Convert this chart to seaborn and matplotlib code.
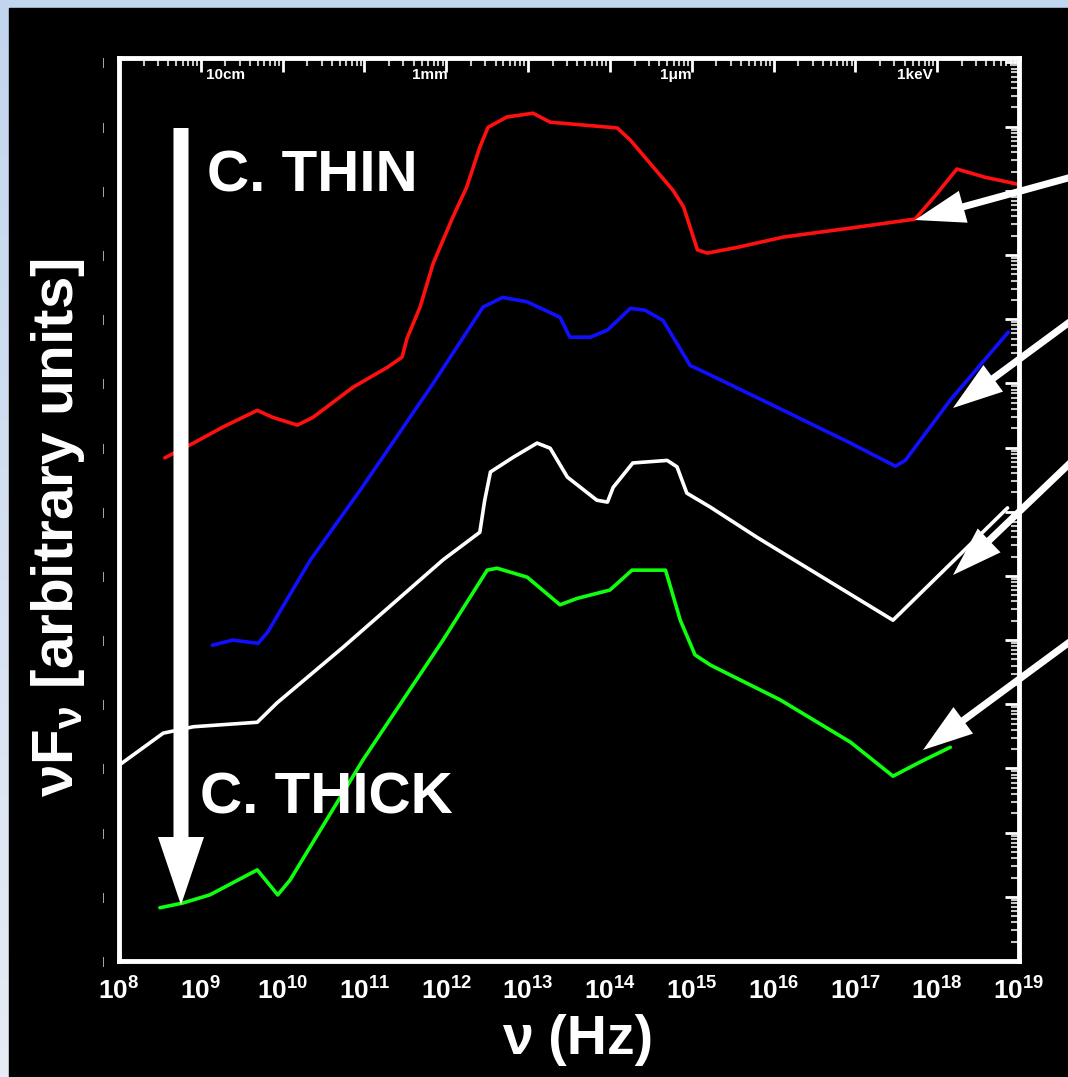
import numpy as np
import pandas as pd
import matplotlib
matplotlib.use("Agg")
import matplotlib.pyplot as plt
import matplotlib.transforms as mtransforms
import seaborn as sns
from matplotlib import font_manager
from matplotlib.colors import LinearSegmentedColormap
from matplotlib.patches import FancyArrowPatch, ArrowStyle, Rectangle
from matplotlib.ticker import FixedLocator, LogLocator, NullFormatter

# ---- spectral energy distributions: log10(nu / Hz) and log10(nu F_nu) ----
thin_lognu = [8.56, 8.91, 9.27, 9.69, 9.88, 10.18, 10.37, 10.86, 11.28, 11.46,
              11.52, 11.68, 11.84, 12.08, 12.25, 12.41, 12.51, 12.74, 13.06,
              13.27, 14.09, 14.25, 14.49, 14.77, 14.90, 15.07, 15.19, 15.56,
              16.12, 16.94, 17.73, 17.98, 18.24, 18.59, 19.00]
thin_logflux = [7.84, 8.07, 8.32, 8.58, 8.47, 8.35, 8.47, 8.94, 9.25, 9.41,
                9.70, 10.19, 10.87, 11.59, 12.06, 12.68, 12.99, 13.15, 13.21,
                13.07, 12.98, 12.79, 12.43, 12.01, 11.75, 11.08, 11.03, 11.12,
                11.28, 11.42, 11.56, 11.93, 12.34, 12.21, 12.10]

mid_thin_lognu = [9.14, 9.39, 9.70, 9.82, 10.34, 10.95, 11.84, 12.45, 12.69,
                  12.99, 13.39, 13.51, 13.76, 13.97, 14.25, 14.43, 14.65,
                  14.83, 14.98, 15.23, 16.12, 16.94, 17.49, 17.61, 18.16, 18.87]
mid_thin_logflux = [4.92, 5.00, 4.95, 5.13, 6.25, 7.34, 9.00, 10.19, 10.34,
                    10.27, 10.03, 9.72, 9.72, 9.83, 10.17, 10.14, 9.98, 9.60,
                    9.28, 9.13, 8.58, 8.07, 7.71, 7.80, 8.74, 9.80]

mid_thick_lognu = [8.00, 8.54, 8.91, 9.69, 9.93, 10.74, 11.96, 12.41, 12.47,
                   12.54, 12.82, 13.11, 13.27, 13.48, 13.84, 13.97, 14.04,
                   14.28, 14.70, 14.82, 14.94, 15.23, 15.80, 17.46, 18.86]
mid_thick_logflux = [3.05, 3.55, 3.65, 3.72, 4.02, 4.89, 6.25, 6.68, 7.18,
                     7.62, 7.85, 8.07, 7.99, 7.54, 7.18, 7.15, 7.38, 7.76,
                     7.80, 7.70, 7.29, 7.07, 6.60, 5.31, 7.06]

thick_lognu = [8.50, 8.77, 9.11, 9.69, 9.94, 10.09, 10.98, 11.96, 12.50,
               12.62, 12.99, 13.39, 13.60, 14.00, 14.27, 14.68, 14.86, 15.04,
               15.23, 16.08, 16.94, 17.46, 17.79, 18.16]
thick_logflux = [0.83, 0.90, 1.03, 1.42, 1.03, 1.26, 3.13, 5.00, 6.09, 6.12,
                 5.98, 5.55, 5.65, 5.78, 6.09, 6.09, 5.31, 4.77, 4.61, 4.07,
                 3.41, 2.88, 3.10, 3.33]

states = ["thin", "mid_thin", "mid_thick", "thick"]
state_colors = ["#ff1010", "#1010ff", "#ffffff", "#10ff10"]

xtick_exponents = list(range(8, 20))
xtick_labels = [r"$\mathrm{10^{%d}}$" % e for e in xtick_exponents]
ytick_exponents = list(range(0, 15))
top_marks = ["10cm", "1mm", "1μm", "1keV"]
top_marks_lognu = [9.30, 11.80, 14.81, 17.73]

# ---- styling ----
sns.set_theme(style="dark", rc={
    "axes.facecolor": "black",
    "figure.facecolor": "black",
    "axes.edgecolor": "white",
    "axes.grid": False,
})
installed = {f.name for f in font_manager.fontManager.ttflist}
narrow = "Liberation Sans Narrow" if "Liberation Sans Narrow" in installed else "Liberation Sans"

plt.rcParams["font.family"] = ["Liberation Sans", "DejaVu Sans"]
plt.rcParams["mathtext.fontset"] = "custom"
plt.rcParams["mathtext.rm"] = narrow + ":bold"
plt.rcParams["mathtext.it"] = "Liberation Sans:bold"
plt.rcParams["mathtext.bf"] = "Liberation Sans:bold"

W, H, DPI = 1068, 1077, 100


def fx(x):
    return x / W


def fy(y):
    return 1 - y / H


fig = plt.figure(figsize=(W / DPI, H / DPI), dpi=DPI)

# slide-style frame: pale blue gradient with a black panel
bg = fig.add_axes([0, 0, 1, 1], zorder=-10)
bg.axis("off")
frame_cmap = LinearSegmentedColormap.from_list("frame", ["#c2d5ee", "#e7ecf5"])
bg.imshow(np.linspace(0, 1, 256)[:, None], aspect="auto", cmap=frame_cmap,
          extent=[0, 1, 0, 1], origin="upper")
bg.add_patch(Rectangle((fx(9), 0), 1, fy(8), color="black", transform=bg.transAxes))
bg.set_xlim(0, 1)
bg.set_ylim(0, 1)

ax = fig.add_axes([fx(119), fy(961), (1019 - 119) / W, (961 - 58) / H])
ax.set_facecolor("black")

frames = []
for name, lx, ly in zip(states,
                        [thin_lognu, mid_thin_lognu, mid_thick_lognu, thick_lognu],
                        [thin_logflux, mid_thin_logflux, mid_thick_logflux, thick_logflux]):
    frames.append(pd.DataFrame({"nu": 10.0 ** np.asarray(lx),
                                "nuFnu": 10.0 ** np.asarray(ly),
                                "state": name}))
sed = pd.concat(frames, ignore_index=True)

sns.lineplot(data=sed, x="nu", y="nuFnu", hue="state", hue_order=states,
             palette=dict(zip(states, state_colors)), sort=False, estimator=None,
             legend=False, linewidth=2.6, ax=ax)

ax.set_xscale("log")
ax.set_yscale("log")
ax.set_xlim(1e8, 1e19)
ax.set_ylim(1, 10 ** 14.07)
ax.set_xlabel("")
ax.set_ylabel("")

ax.xaxis.set_major_locator(FixedLocator(10.0 ** np.array(xtick_exponents)))
ax.set_xticklabels(xtick_labels, fontsize=19, color="white")
ax.xaxis.set_minor_locator(LogLocator(base=10, subs=np.arange(2, 10) * 1.0, numticks=100))
ax.xaxis.set_minor_formatter(NullFormatter())

ax.yaxis.set_major_locator(FixedLocator(10.0 ** np.array(ytick_exponents)))
ax.set_yticklabels(["|"] * len(ytick_exponents), fontsize=8, color="#bbbbbb")
ax.yaxis.set_minor_locator(LogLocator(base=10, subs=np.arange(2, 10) * 1.0, numticks=100))
ax.yaxis.set_minor_formatter(NullFormatter())

ax.tick_params(axis="both", which="major", direction="in", length=10, width=2,
               color="white", top=True, right=True)
ax.tick_params(axis="both", which="minor", direction="in", length=6, width=1.5,
               color="#c8c8c8", top=True, right=True)
ax.tick_params(axis="x", which="major", pad=12)
ax.tick_params(axis="y", which="major", pad=10)

for spine in ax.spines.values():
    spine.set_color("white")
    spine.set_linewidth(3.5)

# wavelength / energy marks along the top axis
top_trans = mtransforms.blended_transform_factory(ax.transData, ax.transAxes)
for lab, lx in zip(top_marks, top_marks_lognu):
    ax.text(10 ** lx, 0.981, lab, transform=top_trans, ha="center", va="center",
            fontsize=11, fontweight="bold", color="white",
            fontfamily=[narrow, "DejaVu Sans"])


# ---- annotations ----
def arrow(p0, p1, tail, head_w, head_l):
    style = ArrowStyle("Simple", head_length=head_l, head_width=head_w, tail_width=tail)
    patch = FancyArrowPatch(posA=(fx(p0[0]), fy(p0[1])), posB=(fx(p1[0]), fy(p1[1])),
                            transform=fig.transFigure, arrowstyle=style,
                            mutation_scale=72 / DPI, color="white", lw=0,
                            shrinkA=0, shrinkB=0, zorder=6)
    fig.add_artist(patch)


arrow((181, 128), (181, 905), 15, 46, 68)
arrow((1090, 172), (915, 220), 7, 33, 50)
arrow((1090, 307), (953, 408), 7, 33, 50)
arrow((1090, 444), (953, 575), 7, 33, 50)
arrow((1090, 627), (923, 750), 7, 33, 50)

fig.text(fx(207), fy(192), "C. THIN", fontsize=42, fontweight="bold", color="white",
         ha="left", va="baseline", zorder=7)
fig.text(fx(200), fy(813), "C. THICK", fontsize=42, fontweight="bold", color="white",
         ha="left", va="baseline", zorder=7)

fig.text(fx(58), fy(528), r"$\nu F_\nu$ [arbitrary units]", rotation=90,
         fontsize=42, fontweight="bold", color="white", ha="center", va="center")
fig.text(fx(578), fy(1040), "ν (Hz)", fontsize=40, fontweight="bold", color="white",
         ha="center", va="center")

fig.savefig("out.png", dpi=DPI, facecolor=fig.get_facecolor())
